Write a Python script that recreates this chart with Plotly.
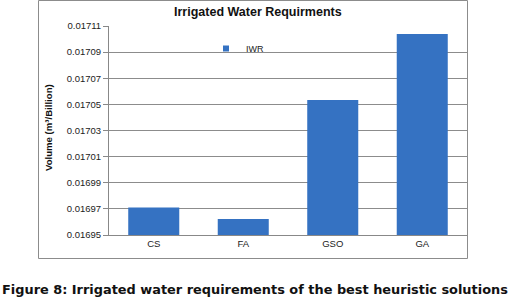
import plotly.graph_objects as go

categories = ["CS", "FA", "GSO", "GA"]
iwr_values = [0.016971, 0.0169622, 0.0170533, 0.0171038]
y_ticks = [0.01695, 0.01697, 0.01699, 0.01701, 0.01703, 0.01705, 0.01707, 0.01709, 0.01711]
y_tick_labels = ["0.01695", "0.01697", "0.01699", "0.01701", "0.01703", "0.01705", "0.01707", "0.01709", "0.01711"]

W, H = 509, 300
L, T = 109, 26
R = 42
B = H - 235
pw, ph = W - L - R, H - T - B

def px_x(p):
    return (p - L) / pw

def px_y(p):
    return (H - B - p) / ph

BLUE = "#3572c2"

fig = go.Figure()
fig.add_trace(go.Bar(
    x=categories, y=iwr_values,
    marker=dict(color=BLUE, line=dict(width=0)),
    showlegend=False, name="IWR",
))
fig.add_trace(go.Scatter(
    x=[None], y=[None], mode="markers", name="IWR",
    marker=dict(symbol="square", size=6, color=BLUE),
    showlegend=True,
))

fig.update_layout(
    width=W, height=H,
    margin=dict(l=L, r=R, t=T, b=B, pad=0),
    paper_bgcolor="white", plot_bgcolor="white",
    bargap=0.43,
    font=dict(family="Liberation Sans, Arial, sans-serif", size=9, color="#222"),
    showlegend=True,
    legend=dict(x=px_x(206), y=px_y(34), xanchor="left", yanchor="top",
                bgcolor="rgba(0,0,0,0)", font=dict(size=9), itemwidth=30,
                borderwidth=0),
    xaxis=dict(showgrid=False, showline=True, linecolor="#888", linewidth=1,
               ticks="", tickfont=dict(size=9.5), range=[-0.5, 3.5], automargin=False),
    yaxis=dict(range=[0.01695, 0.01711], tickvals=y_ticks, ticktext=y_tick_labels,
               showgrid=True, gridcolor="#8c8c8c", gridwidth=1,
               showline=True, linecolor="#888", linewidth=1,
               ticks="outside", ticklen=5, tickcolor="#888",
               tickfont=dict(size=9.5), zeroline=False, automargin=False),
)

# chart frame
fig.add_shape(type="rect", xref="paper", yref="paper",
              x0=px_x(38.5), x1=px_x(467.5), y0=px_y(258.5), y1=px_y(0.5),
              line=dict(color="#8c8c8c", width=1), fillcolor="rgba(0,0,0,0)", layer="below")

# chart title
fig.add_annotation(text="<b>Irrigated Water Requirments</b>", xref="paper", yref="paper",
                   x=px_x(258), y=px_y(12), xanchor="center", yanchor="middle",
                   showarrow=False, font=dict(size=12.5, color="#111"))

# y-axis title
fig.add_annotation(text="<b>Volume (m³/Billion)</b>", xref="paper", yref="paper",
                   x=px_x(48), y=px_y(128), xanchor="center", yanchor="middle",
                   textangle=-90, showarrow=False, font=dict(size=9.6, color="#111"))

# caption
fig.add_annotation(text="<b>Figure 8: Irrigated water requirements of the best heuristic solutions</b>",
                   xref="paper", yref="paper", x=px_x(0), y=px_y(289),
                   xanchor="left", yanchor="middle", showarrow=False,
                   font=dict(family="DejaVu Sans, sans-serif", size=12.9, color="#111"))

fig.write_html("out.html", config={"displayModeBar": False},
               post_script="document.body.style.margin='0px';document.body.style.overflow='hidden';")
